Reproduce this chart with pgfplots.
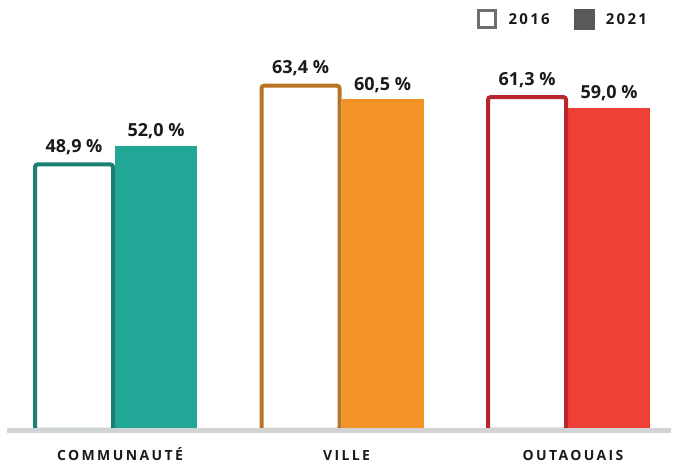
\documentclass[border=0pt]{standalone}
\usepackage{pgfplots}
\pgfplotsset{compat=1.18}
\usepackage{fontspec}
\setmainfont{Open Sans}
\definecolor{tealO}{RGB}{27,128,114}
\definecolor{tealF}{RGB}{34,166,150}
\definecolor{oranO}{RGB}{185,115,35}
\definecolor{oranF}{RGB}{243,147,37}
\definecolor{redO}{RGB}{182,38,42}
\definecolor{redF}{RGB}{238,64,54}
\definecolor{baseG}{RGB}{209,211,212}
\definecolor{legO}{RGB}{109,110,112}
\definecolor{legF}{RGB}{88,89,91}
\definecolor{txt}{RGB}{26,26,26}
\begin{document}
\begin{tikzpicture}
\useasboundingbox (0,0) rectangle (674pt,468pt);
\begin{axis}[
  at={(115pt,40pt)}, anchor=origin,
  x=226.5pt, y=5.43pt,
  xmin=-0.477, xmax=2.4525, ymin=0, ymax=78.82,
  clip=false,
  axis x line*=bottom, axis y line=none,
  x axis line style={draw=none},
  major tick length=0pt,
  xtick={0,1,2},
  xticklabels={COMMUNAUTÉ,VILLE,OUTAOUAIS},
  xticklabel style={font=\fontsize{14}{14}\bfseries\addfontfeatures{LetterSpace=17}, text=txt, anchor=base, yshift=-33pt, xshift=5pt},
  ytick=\empty,
  /pgf/number format/.cd, fixed, fixed zerofill, precision=1, use comma, assume math mode=true,
  /pgfplots/.cd,
  outbar/.style={ybar, bar width=78pt, bar shift=-41pt, line width=4pt, fill=white, rounded corners=2.5pt, yshift=-2pt,
    nodes near coords={\pgfmathprintnumber{\pgfplotspointmeta}~\%},
    every node near coord/.append style={anchor=base, inner sep=0pt, xshift=-41pt, yshift=12pt, font=\fontsize{18}{18}\bfseries, text=txt}},
  fillbar/.style={ybar, bar width=82pt, bar shift=41pt, draw=none,
    nodes near coords={\pgfmathprintnumber{\pgfplotspointmeta}~\%},
    every node near coord/.append style={anchor=base, inner sep=0pt, xshift=41pt, yshift=9pt, font=\fontsize{18}{18}\bfseries, text=txt}},
  legend columns=2,
  legend style={at={(axis description cs:0.7076,0.979)}, anchor=north west, draw=none, fill=none, inner sep=0pt,
    font=\fontsize{15}{15}\bfseries\addfontfeatures{LetterSpace=15}, text=txt,
    /tikz/every even column/.append style={column sep=22pt}},
  legend cell align=left,
]
\addlegendimage{legend image code/.code={\draw[legO, line width=3pt, fill=white] (1.5pt,-8.5pt) rectangle (18.5pt,8.5pt); \path[draw=none] (0pt,0pt) -- (30pt,0pt);}}
\addlegendentry{2016}
\addlegendimage{legend image code/.code={\fill[legF] (0pt,-10pt) rectangle (20pt,10pt); \path[draw=none] (0pt,0pt) -- (30pt,0pt);}}
\addlegendentry{2021}
\addplot[fillbar, fill=tealF, forget plot] coordinates {(0,52.0)};
\addplot[fillbar, fill=oranF, forget plot] coordinates {(1,60.5)};
\addplot[fillbar, fill=redF, forget plot] coordinates {(2,59.0)};
\addplot[outbar, draw=tealO, forget plot] coordinates {(0,48.9)};
\addplot[outbar, draw=oranO, forget plot] coordinates {(1,63.4)};
\addplot[outbar, draw=redO, forget plot] coordinates {(2,61.3)};
\draw[baseG, line width=5pt, yshift=-2.5pt] (axis cs:-0.477,0) -- (axis cs:2.4525,0);
\end{axis}
\end{tikzpicture}
\end{document}
